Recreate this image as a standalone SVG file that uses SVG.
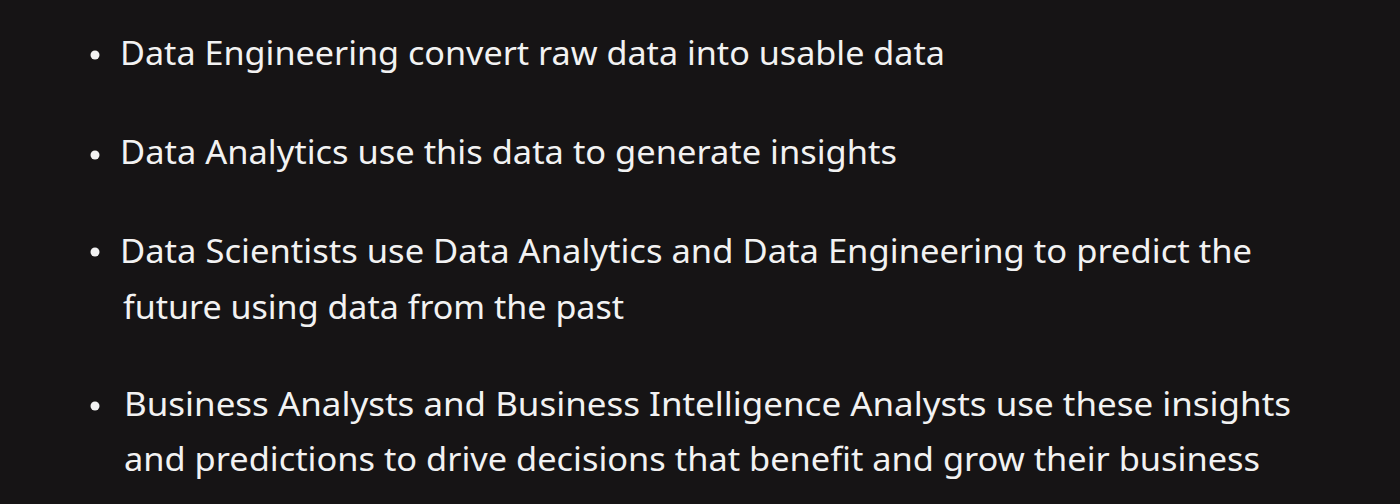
<svg xmlns="http://www.w3.org/2000/svg" width="1400" height="504" viewBox="0 0 1400 504">
<style>
.t{font-family:"Noto Sans","Open Sans","Liberation Sans",sans-serif;font-size:33px;fill:#f2f2f2}
.b{fill:#f2f2f2}
</style>
<rect width="1400" height="504" fill="#161415"/>
<g id="item1">
<circle class="b" cx="95" cy="55" r="4.5"/>
<text class="t" x="120" y="65" textLength="825" lengthAdjust="spacingAndGlyphs">Data Engineering convert raw data into usable data</text>
</g>
<g id="item2">
<circle class="b" cx="95" cy="155" r="4.5"/>
<text class="t" x="120" y="164" textLength="777" lengthAdjust="spacingAndGlyphs">Data Analytics use this data to generate insights</text>
</g>
<g id="item3">
<circle class="b" cx="95" cy="252" r="4.5"/>
<text class="t" x="120" y="263" textLength="1132" lengthAdjust="spacingAndGlyphs">Data Scientists use Data Analytics and Data Engineering to predict the</text>
<text class="t" x="123" y="319" textLength="501" lengthAdjust="spacingAndGlyphs">future using data from the past</text>
</g>
<g id="item4">
<circle class="b" cx="95" cy="406" r="4.5"/>
<text class="t" x="124" y="416" textLength="1167" lengthAdjust="spacingAndGlyphs">Business Analysts and Business Intelligence Analysts use these insights</text>
<text class="t" x="124" y="471" textLength="1136" lengthAdjust="spacingAndGlyphs">and predictions to drive decisions that benefit and grow their business</text>
</g>
</svg>
